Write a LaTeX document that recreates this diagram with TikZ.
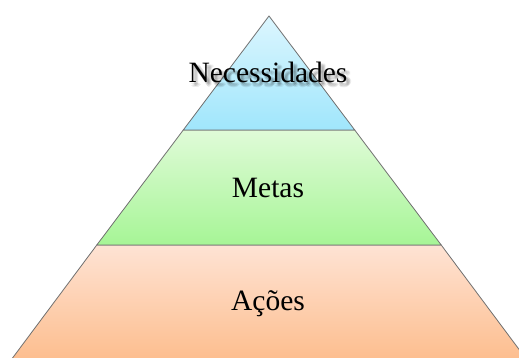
\documentclass[tikz,border=0pt]{standalone}
\usepackage{fontspec}
\setmainfont{Liberation Serif}
\definecolor{btop}{HTML}{DCF6FE}
\definecolor{bbot}{HTML}{A0E6FC}
\definecolor{gtop}{HTML}{E0FBD8}
\definecolor{gbot}{HTML}{A6F596}
\definecolor{otop}{HTML}{FEE3D4}
\definecolor{obot}{HTML}{FDBE8F}
\definecolor{edge}{HTML}{707070}
\begin{document}
\begin{tikzpicture}[x=1pt,y=1pt,
  layer/.style={draw=edge,line width=0.8pt,line join=round},
  lbl/.style={font=\fontsize{29.5}{32}\selectfont,inner sep=0pt},
  shadowlbl/.style={font=\fontsize{29.5}{32}\selectfont,inner sep=0pt,text=black,opacity=0.07}]
\useasboundingbox (0,0) rectangle (519,358);
\begin{scope}
\clip (0,0) rectangle (519,358);
% apex (269,342), half-width slope 0.752
\shade[layer,top color=otop,bottom color=obot] (96.8,113) -- (441.2,113) -- (526.2,-1) -- (11.8,-1) -- cycle;
\shade[layer,top color=gtop,bottom color=gbot] (183.3,228) -- (354.7,228) -- (441.2,113) -- (96.8,113) -- cycle;
\shade[layer,top color=btop,bottom color=bbot] (269,342) -- (354.7,228) -- (183.3,228) -- cycle;
\end{scope}
\foreach \dx/\dy in {2/-2,3/-3,4/-4,2/-4,4/-2,3/-5,5/-3}
  \node[shadowlbl] at (268+\dx,286+\dy) {Necessidades};
\node[lbl] (n) at (268,286) {Necessidades};
\node[lbl] (m) at (268,170) {Metas};
\node[lbl] (a) at (268,54) {Ações};
\end{tikzpicture}
\end{document}
